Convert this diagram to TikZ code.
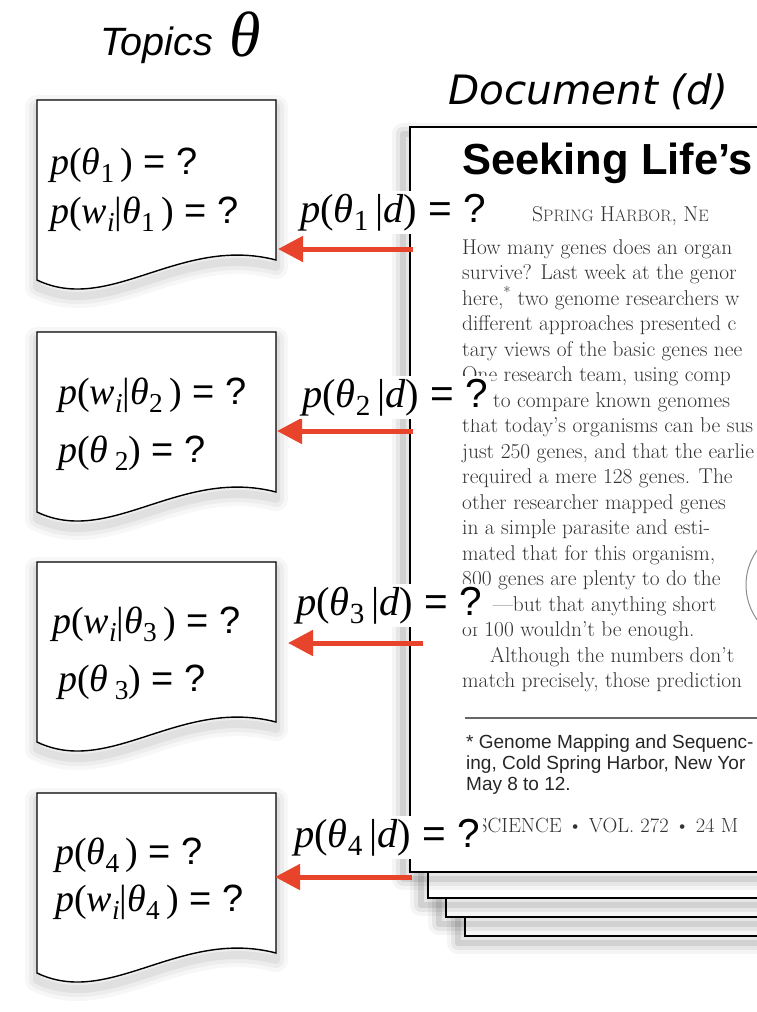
\documentclass[tikz,border=0pt]{standalone}
\usepackage{fontspec}
\usepackage{graphicx}
\usetikzlibrary{arrows.meta}
\newfontfamily\tms{Liberation Serif}
\newfontfamily\hv{Liberation Sans}
\newfontfamily\dvs{DejaVu Sans}
\definecolor{arrred}{HTML}{E8432B}
\definecolor{bodygray}{gray}{0.2}
\newcommand\fv[1]{{\tms\itshape #1}}
\newcommand\fr[1]{{\tms #1}}
\newcommand\fs[1]{\raisebox{-0.22em}{\scalebox{0.72}{\tms #1}}}
\newcommand\feq{{\hv\ = ?}}
% p(theta_k ) = ?
\newcommand\pthA[1]{\fv{p}\fr{(}\fv{θ}\fs{#1}\fr{\,)}\feq}
% p(theta _k) = ?
\newcommand\pthB[1]{\fv{p}\fr{(}\fv{θ}\,\fs{#1}\fr{)}\feq}
% p(w_i|theta_k ) = ?
\newcommand\pwth[1]{\fv{p}\fr{(}\fv{w}\fs{\itshape i}\fr{|}\fv{θ}\fs{#1}\fr{\,)}\feq}
% p(theta_k|d) = ?
\newcommand\pthd[1]{\fv{p}\fr{(}\fv{θ}\fs{#1}\,\fr{|}\fv{d}\fr{)}\feq}
\newcommand\topicpath[1]{(37,#1) -- (276,#1) -- (276,#1+160) .. controls (180,#1+135) and (110,#1+215) .. (37,#1+180) -- cycle}
\newcommand\topicbox[1]{%
  \foreach \w/\o in {24/0.03,16/0.04,8/0.05}
    \draw[line width=\w pt, opacity=\o, line join=round, shift={(0,7)}] \topicpath{#1};
  \filldraw[fill=white, draw=black, line width=1.4pt] \topicpath{#1};}
\newcommand\docpage[3]{%
  \foreach \w/\o in {22/0.04,14/0.06,6/0.09}
    \draw[line width=\w pt, opacity=\o, line join=round, shift={(-7,7)}] (#1,#2) rectangle (820,#3);
  \filldraw[fill=white, draw=black, line width=1.6pt] (#1,#2) rectangle (820,#3);}
\tikzset{
  boxtxt/.style={anchor=base west, inner sep=0pt, font=\fontsize{38}{42}\selectfont},
  lbl/.style={anchor=base west, fill=white, inner sep=3pt, font=\fontsize{40.5}{44}\selectfont},
  bodytxt/.style={anchor=base west, inner sep=0pt, text=bodygray, font=\fontsize{21.4}{26}\selectfont},
  foot/.style={anchor=base west, inner sep=0pt, text=black!85, font=\hv\fontsize{19}{23}\selectfont},
  redarrow/.style={draw=arrred, line width=5pt, -{Triangle[length=25pt, width=25pt]}, shorten >=0pt}
}
\begin{document}
\begin{tikzpicture}[x=1pt, y=-1pt]
\useasboundingbox (0,0) rectangle (756,1012);
\fill[white] (0,0) rectangle (756,1012);

% titles
\node[anchor=base west, inner sep=0pt] (ttop) at (100,55) {\hv\itshape\fontsize{39.5}{42}\selectfont Topics};
\node[anchor=base west, inner sep=0pt] (tth) at (229,56) {\tms\itshape\fontsize{64}{66}\selectfont θ};
\node[anchor=base west, inner sep=0pt] (tdoc) at (448,104) {\dvs\itshape\fontsize{40.5}{44}\selectfont Document (d)};

% document stack
\docpage{465}{200}{936}
\docpage{446}{180}{917}
\docpage{428}{160}{898}
\docpage{410}{127}{872}

% page content
\node[anchor=base west, inner sep=0pt] (head) at (462,174) {\hv\bfseries\fontsize{43.5}{46}\selectfont Seeking Life’s};
\node[anchor=base west, inner sep=0pt, text=black!80] (dateline) at (532,221) {\fontsize{21.5}{24}\selectfont S{\fontsize{16.5}{18}\selectfont PRING} H{\fontsize{16.5}{18}\selectfont ARBOR}, N{\fontsize{16.5}{18}\selectfont E}};
\node[bodytxt] (b1) at (462,254) {How many genes does an organ};
\node[bodytxt] (b2) at (462,279.5) {survive? Last week at the genor};
\node[bodytxt] (b3) at (462,305) {here,\textsuperscript{*} two genome researchers w};
\node[bodytxt] (b4) at (462,330.5) {different approaches presented c};
\node[bodytxt] (b5) at (462,356) {tary views of the basic genes nee};
\node[bodytxt] (b6) at (462,381.5) {One research team, using comp};
\node[bodytxt] (b7) at (493,407) {to compare known genomes};
\node[bodytxt] (b8) at (462,432.5) {that today’s organisms can be sus};
\node[bodytxt] (b9) at (462,458) {just 250 genes, and that the earlie};
\node[bodytxt] (b10) at (462,483.5) {required a mere 128 genes. The};
\node[bodytxt] (b11) at (462,509) {other researcher mapped genes};
\node[bodytxt] (b12) at (462,534.5) {in a simple parasite and esti-};
\node[bodytxt] (b13) at (462,560) {mated that for this organism,};
\node[bodytxt] (b14) at (462,585.5) {800 genes are plenty to do the};
\node[bodytxt] (b15) at (493,611) {—but that anything short};
\node[bodytxt] (b16) at (462,636.5) {of 100 wouldn’t be enough.};
\node[bodytxt] (b17) at (490,662) {Although the numbers don’t};
\node[bodytxt] (b18) at (462,687.5) {match precisely, those prediction};
\draw[black!60, line width=1.3pt] (465,718) -- (800,718);
\node[foot] (f1) at (466,748) {* Genome Mapping and Sequenc-};
\node[foot] (f2) at (466,769) {ing, Cold Spring Harbor, New Yor};
\node[foot] (f3) at (466,790) {May 8 to 12.};
\node[bodytxt, font=\fontsize{20.5}{22}\selectfont] (sci) at (477,832) {SCIENCE \textbullet\ VOL. 272 \textbullet\ 24 M};
\draw[black!45, line width=1pt] (806,585) circle (60);

% topic boxes
\topicbox{100}
\topicbox{332}
\topicbox{562}
\topicbox{793}

\node[boxtxt] (t1a) at (50,174) {\pthA{1}};
\node[boxtxt] (t1b) at (50,223) {\pwth{1}};
\node[boxtxt] (t2a) at (58,404) {\pwth{2}};
\node[boxtxt] (t2b) at (58,462) {\pthB{2}};
\node[boxtxt] (t3a) at (52,633) {\pwth{3}};
\node[boxtxt] (t3b) at (58,691) {\pthB{3}};
\node[boxtxt] (t4a) at (55,864) {\pthA{4}};
\node[boxtxt] (t4b) at (55,911) {\pwth{4}};

% arrows
\coordinate (s1) at (413,249); \coordinate (e1) at (278,249);
\coordinate (s2) at (413,431); \coordinate (e2) at (277,431);
\coordinate (s3) at (423,643); \coordinate (e3) at (288,643);
\coordinate (s4) at (412,877); \coordinate (e4) at (275,877);
\draw[redarrow] (s1) -- (e1);
\draw[redarrow] (s2) -- (e2);
\draw[redarrow] (s3) -- (e3);
\draw[redarrow] (s4) -- (e4);

% labels
\node[lbl] (L1) at (297,222) {\pthd{1}};
\node[lbl] (L2) at (299,407) {\pthd{2}};
\node[lbl] (L3) at (293,615) {\pthd{3}};
\node[lbl] (L4) at (291,847) {\pthd{4}};
\end{tikzpicture}
\end{document}
